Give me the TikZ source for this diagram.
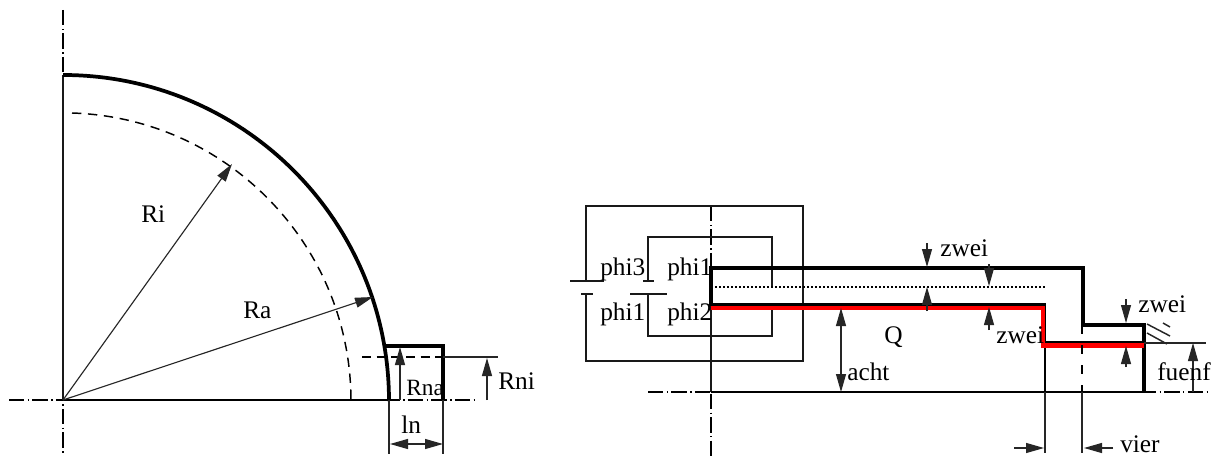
\documentclass[tikz,border=0pt]{standalone}
\usepackage{fontspec}
\setmainfont{Liberation Serif}
\usetikzlibrary{arrows.meta}
\tikzset{
  x=0.75pt,y=-0.75pt,
  thinl/.style={line width=0.85pt,black!85},
  med/.style={line width=1.25pt,black!90},
  thick3/.style={line width=2.8pt,black,line cap=butt,line join=miter},
  redl/.style={line width=3.3pt,red,line join=miter},
  axis/.style={line width=1.2pt,black,dash pattern=on 11.6pt off 2.5pt on 1pt off 2.5pt},
  dim/.style={line width=0.85pt,black!85,-{Triangle[length=13.5pt,width=7.5pt]}},
  dimtwo/.style={line width=0.85pt,black!85,{Triangle[length=13.5pt,width=7.5pt]}-{Triangle[length=13.5pt,width=7.5pt]}},
  labr/.style={inner sep=0pt,anchor=base west,font=\fontsize{17.5}{18}\selectfont},
  lab/.style={inner sep=0pt,anchor=base west,font=\fontsize{19}{19}\selectfont},
}
\begin{document}
\begin{tikzpicture}
\useasboundingbox (0,0) rectangle (1216,456);
\fill[white] (0,0) rectangle (1216,456);
% left figure
\coordinate (c) at (63,400);
\draw[axis] (63,10) -- (63,456);
\draw[axis] (9,400) -- (475,400);
\draw[med] (63,75) -- (63,400);
\draw[line width=0.9pt] (63,400) -- (389,400);
\draw[line width=1.1pt,dash pattern=on 7pt off 5pt] (72,113) arc[start angle=-88.2,end angle=0,radius=288];
\draw[thick3] (63,75) arc[start angle=-90,end angle=0,radius=326];
\coordinate (ri) at (232,164);
\coordinate (ra) at (373,297);
\draw[dim] (c) -- (ri);
\draw[dim] (c) -- (ra);
\draw[thick3] (386,346) -- (443,346) -- (443,400);
\draw[line width=1.1pt,dash pattern=on 7pt off 4pt] (362,357) -- (443,357);
\draw[line width=1.1pt,black!85] (443,357) -- (498,357);
\draw[thinl] (389,400) -- (389,454);
\draw[thinl] (443,400) -- (443,454);
\coordinate (rna0) at (400,400); \coordinate (rna1) at (400,347);
\coordinate (rni0) at (487,400); \coordinate (rni1) at (487,358);
\coordinate (ln0) at (390,444); \coordinate (ln1) at (443,444);
\draw[dim] (rna0) -- (rna1);
\draw[dim] (rni0) -- (rni1);
\draw[dimtwo] (ln0) -- (ln1);
\node[lab] (tRi) at (141,222) {Ri};
\node[lab] (tRa) at (243,318) {Ra};
\node[labr] (tRna) at (406,395) {Rna};
\node[lab] (tRni) at (498,389) {Rni};
\node[lab] (tln) at (401,433) {ln};
% right figure
\draw[axis] (711,206) -- (711,456);
\draw[axis] (648,392) -- (1207,392);
% loops
\draw[med] (586,281) -- (586,206) -- (803,206) -- (803,361) -- (586,361) -- (586,294);
\draw[med] (570,281) -- (604,281);
\draw[med] (581,294) -- (593,294);
\draw[med] (648,281) -- (648,237) -- (772,237) -- (772,287);
\draw[med] (772,308) -- (772,336) -- (648,336) -- (648,294);
\draw[med] (643,281) -- (654,281);
\draw[med] (630,294) -- (667,294);
% shaft
\draw[line width=1.1pt,dash pattern=on 1.5pt off 1.5pt] (711,287) -- (1045,287);
\draw[med] (711,304) -- (711,392);
\draw[thick3] (711,305.5) -- (711,268) -- (1083,268) -- (1083,325) -- (1144,325) -- (1144,392);
\draw[line width=1.7pt] (711,392) -- (1144,392);
\draw[line width=1.8pt] (711,304.5) -- (1045,304.5) -- (1045,392);
\draw[line width=1.8pt] (1045,342) -- (1144,342);
\draw[redl] (711,308) -- (1043,308) -- (1043,345.5) -- (1144,345.5);
\draw[thinl] (1045,392) -- (1045,453);
\draw[thinl] (1082,392) -- (1082,453);
\draw[line width=1.3pt,dash pattern=on 7pt off 8pt] (1082,325) -- (1082,392);
% hatching
\draw[line width=1.1pt,black!85] (1147,324) -- (1170,336);
\draw[line width=1.1pt,black!85] (1147,333) -- (1167,344);
\draw[line width=1.1pt,black!85] (1163,323) -- (1170,327);
% dimensions
\coordinate (z1a) at (927,243); \coordinate (z1b) at (927,267);
\coordinate (z1c) at (927,311); \coordinate (z1d) at (927,287);
\draw[dim] (z1a) -- (z1b);
\draw[dim] (z1c) -- (z1d);
\coordinate (z2a) at (989,264); \coordinate (z2b) at (989,286);
\coordinate (z2c) at (989,330); \coordinate (z2d) at (989,307);
\draw[dim] (z2a) -- (z2b);
\draw[dim] (z2c) -- (z2d);
\coordinate (a0) at (841,308); \coordinate (a1) at (841,392);
\draw[dimtwo] (a0) -- (a1);
\coordinate (z3a) at (1126,299); \coordinate (z3b) at (1126,323);
\coordinate (z3c) at (1126,367); \coordinate (z3d) at (1126,346);
\draw[dim] (z3a) -- (z3b);
\draw[dim] (z3c) -- (z3d);
\draw[thinl] (1144,343) -- (1206,343);
\coordinate (f0) at (1193,392); \coordinate (f1) at (1193,343);
\draw[dim] (f0) -- (f1);
\coordinate (v0) at (1014,448); \coordinate (v1) at (1044,448);
\coordinate (v2) at (1113,448); \coordinate (v3) at (1084,448);
\draw[dim] (v0) -- (v1);
\draw[dim] (v2) -- (v3);
% labels
\node[lab] (tp3) at (600,275) {phi3};
\node[lab] (tp1) at (667,275) {phi1};
\node[lab] (tp1b) at (600,320) {phi1};
\node[lab] (tp2) at (667,320) {phi2};
\node[lab] (tz1) at (940,256) {zwei};
\node[lab] (tz2) at (996,343) {zwei};
\node[lab] (tz3) at (1138,312) {zwei};
\node[lab] (tQ) at (884,343) {Q};
\node[lab] (tacht) at (847,380) {acht};
\node[lab] (tf) at (1157,380) {fuenf};
\node[lab] (tv) at (1120,452.5) {vier};
\end{tikzpicture}
\end{document}
